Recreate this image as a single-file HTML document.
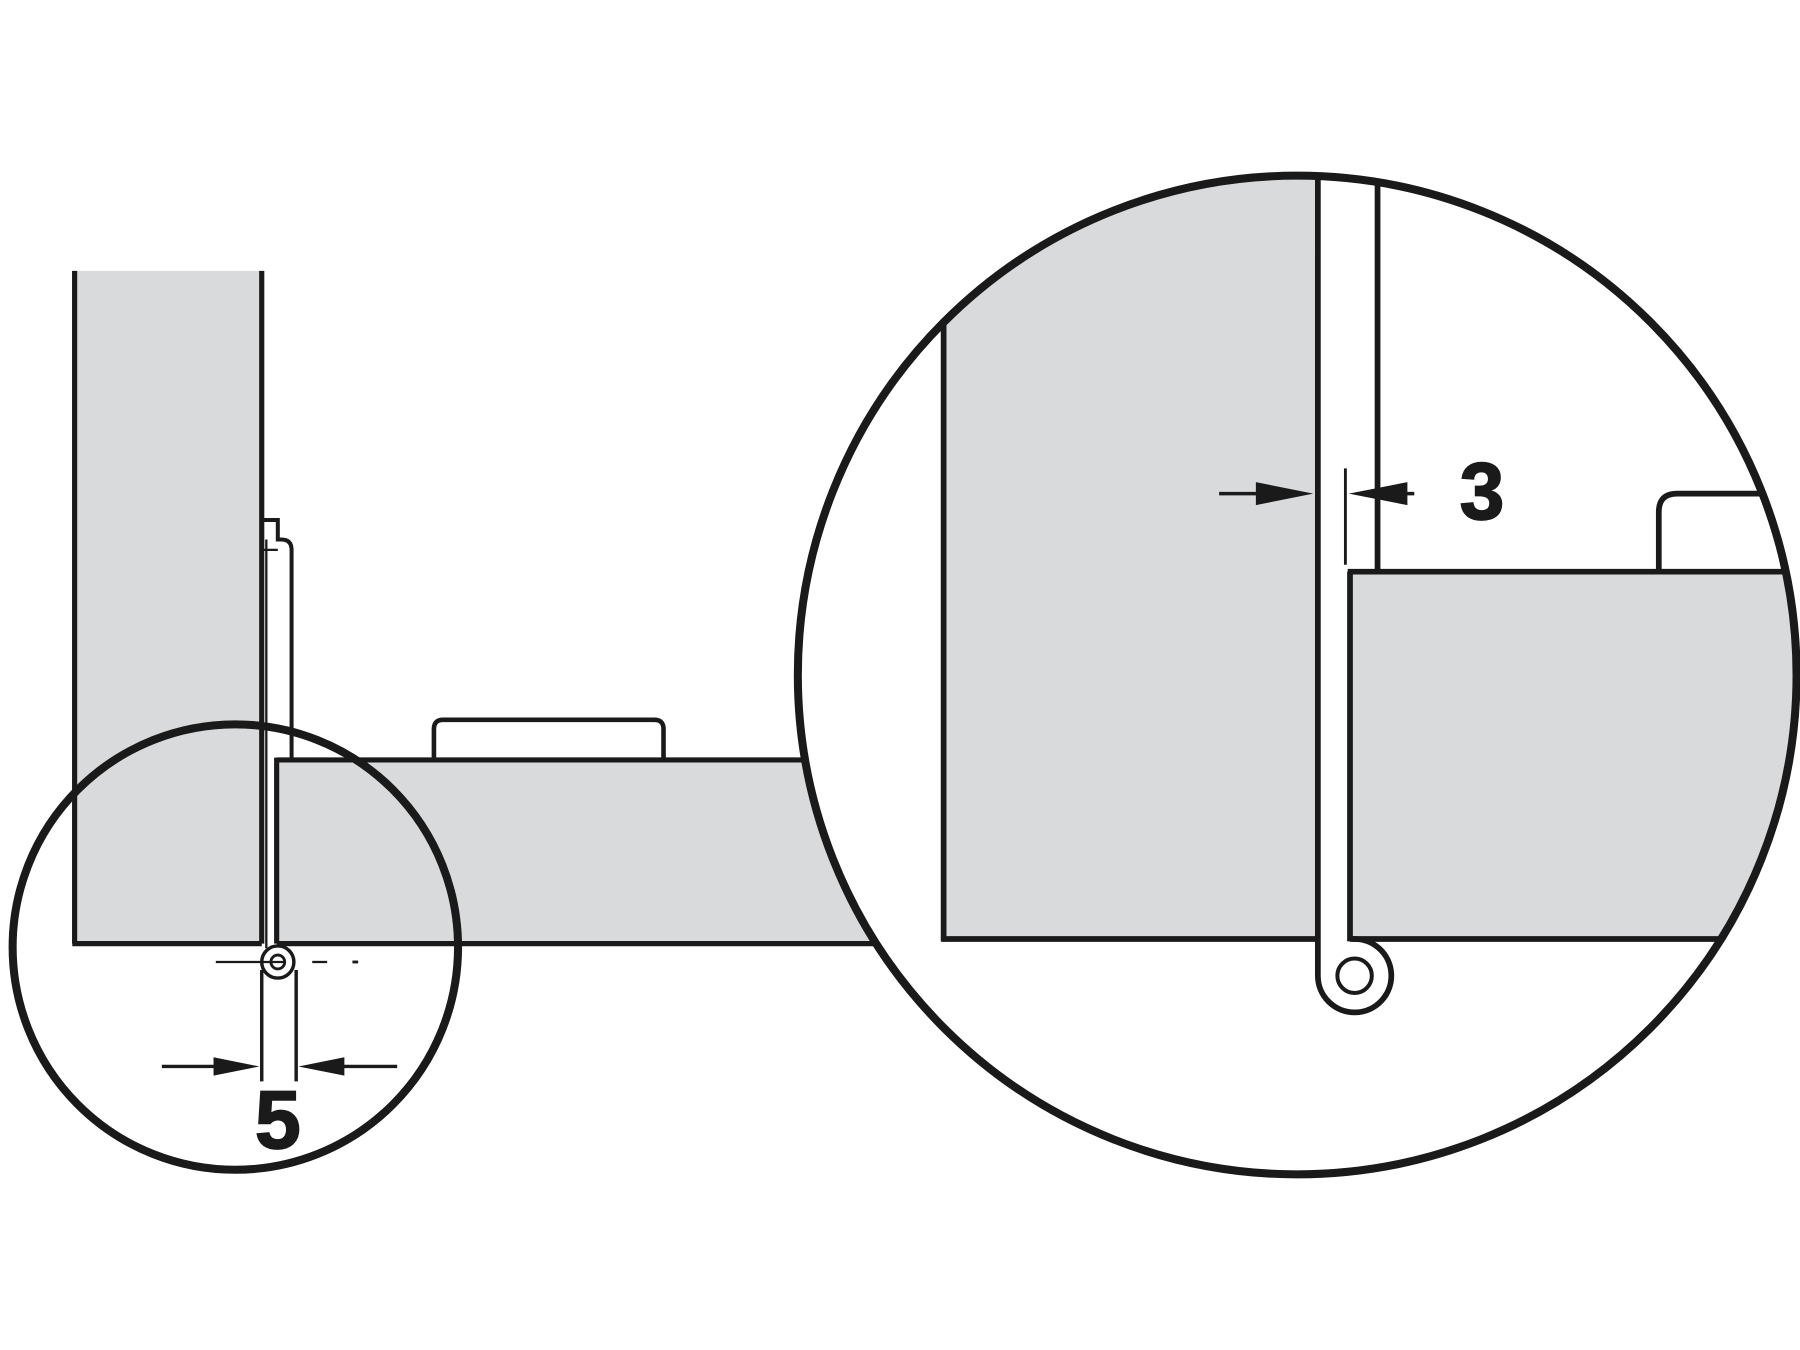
<!DOCTYPE html>
<html><head><meta charset="utf-8"><style>html,body{margin:0;padding:0;background:#fff}svg{display:block}</style></head>
<body>
<svg width="1800" height="1350" viewBox="0 0 1568 1176" xmlns="http://www.w3.org/2000/svg">
<defs>
<clipPath id="bc"><circle cx="1130" cy="588" r="435"/></clipPath>
</defs>
<g stroke="#1a1a1a" fill="none" stroke-linecap="butt">
<rect x="65" y="236" width="163" height="586" fill="#d9dadc" stroke="none"/>
<path d="M241 662 H760 V822 H241 Z" fill="#d9dadc" stroke="none"/>
<line x1="65" y1="236" x2="65" y2="822" stroke-width="4.5"/>
<line x1="228" y1="236" x2="228" y2="822" stroke-width="4.5"/>
<line x1="63" y1="822" x2="228" y2="822" stroke-width="4.5"/>
<line x1="241" y1="822" x2="762" y2="822" stroke-width="4.5"/>
<line x1="241" y1="662" x2="700" y2="662" stroke-width="4.5"/>
<line x1="241" y1="660" x2="241" y2="822" stroke-width="4.5"/>
<path d="M228 453 H242 V470 H245 Q254 470 254 479 V662" stroke-width="3.5"/>
<line x1="228" y1="479" x2="242" y2="479" stroke-width="2"/>
<line x1="232" y1="470" x2="232" y2="826" stroke-width="2"/>
<path d="M378 662 V635 Q378 627 386 627 H570 Q578 627 578 635 V662" stroke-width="4"/>
<circle cx="242" cy="838" r="14" fill="#fff" stroke-width="3"/>
<circle cx="242" cy="838" r="6" stroke-width="2.5"/>
<line x1="188" y1="838" x2="248" y2="838" stroke-width="2"/>
<line x1="272" y1="838" x2="285" y2="838" stroke-width="2"/>
<line x1="307" y1="838" x2="312" y2="838" stroke-width="2.5"/>
<line x1="228" y1="845" x2="228" y2="942" stroke-width="3"/>
<line x1="258" y1="845" x2="258" y2="942" stroke-width="3"/>
<line x1="141" y1="929" x2="200" y2="929" stroke-width="3"/>
<path d="M186 921 L226 929 L186 937 Z" fill="#1a1a1a" stroke="none"/>
<line x1="290" y1="929" x2="346" y2="929" stroke-width="3"/>
<path d="M300 921 L260 929 L300 937 Z" fill="#1a1a1a" stroke="none"/>
<circle cx="205" cy="825" r="194" stroke-width="7"/>
<circle cx="1130" cy="588" r="435" fill="#fff" stroke="none"/>
<g clip-path="url(#bc)">
<rect x="822" y="140" width="326" height="678" fill="#d9dadc" stroke="none"/>
<rect x="1176" y="498" width="420" height="320" fill="#d9dadc" stroke="none"/>
<line x1="822" y1="280" x2="822" y2="820" stroke-width="5"/>
<line x1="820" y1="818" x2="1150" y2="818" stroke-width="5"/>
<line x1="1176" y1="818" x2="1600" y2="818" stroke-width="5"/>
<line x1="1174" y1="498" x2="1600" y2="498" stroke-width="5"/>
<line x1="1176" y1="498" x2="1176" y2="820" stroke-width="5"/>
<line x1="1200" y1="140" x2="1200" y2="498" stroke-width="5"/>
<path d="M1148 140 V850 A32 32 0 1 0 1178 818" stroke-width="5"/>
<circle cx="1180" cy="850" r="15" stroke-width="3.5"/>
<path d="M1445 498 V446 Q1445 430 1461 430 H1600" stroke-width="5"/>
<line x1="1172" y1="408" x2="1172" y2="492" stroke-width="2.5"/>
</g>
<line x1="1062" y1="430" x2="1110" y2="430" stroke-width="3"/>
<path d="M1094 420 L1144 430 L1094 440 Z" fill="#1a1a1a" stroke="none"/>
<line x1="1210" y1="430" x2="1232" y2="430" stroke-width="3"/>
<path d="M1226 420 L1175 430 L1226 440 Z" fill="#1a1a1a" stroke="none"/>
<circle cx="1130" cy="588" r="435" stroke-width="7"/>
</g>
<text x="242" y="1000" font-family="Liberation Sans, sans-serif" font-weight="bold" font-size="72" text-anchor="middle" fill="#1a1a1a" stroke="#1a1a1a" stroke-width="1.5">5</text>
<text x="1291" y="452" font-family="Liberation Sans, sans-serif" font-weight="bold" font-size="70" text-anchor="middle" fill="#1a1a1a" stroke="#1a1a1a" stroke-width="1.5">3</text>
</svg>
</body></html>
